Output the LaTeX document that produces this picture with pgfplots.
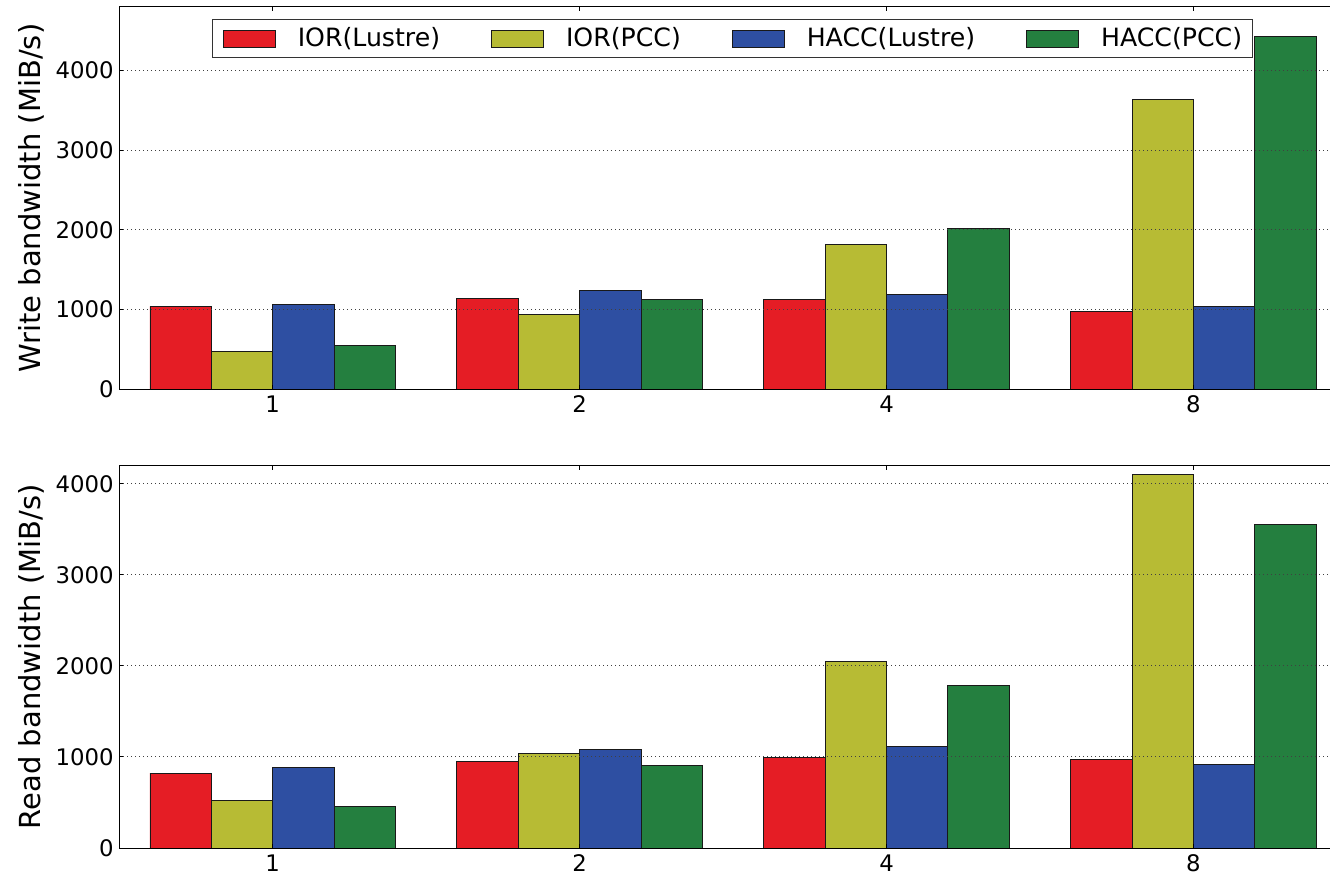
\documentclass[border=0pt]{standalone}
\usepackage{fontspec}
\setmainfont{DejaVu Sans}
\usepackage{pgfplots}
\pgfplotsset{compat=1.18}
\definecolor{cred}{RGB}{229,29,37}
\definecolor{cyel}{RGB}{183,187,52}
\definecolor{cblu}{RGB}{46,79,162}
\definecolor{cgrn}{RGB}{36,127,63}
\pgfplotsset{
  mybar/.style={ybar, bar width=0.2, bar shift=0pt, draw=black!90, line width=0.45pt, fill=#1,
    legend image code/.code={\draw[fill=#1, draw=black!90, line width=0.45pt] (0pt,-4.4pt) rectangle (26pt,4.4pt);}},
  myaxis/.style={
    scale only axis, width=605.35pt, height=191.15pt,
    xmin=-0.5, xmax=3.445, ymin=0,
    axis y line*=left,
    xtick={0,1,2,3}, xticklabels={1,2,4,8},
    ytick={0,1000,2000,3000,4000},
    tick align=inside, major tick length=2pt,
    tick style={black, line width=0.5pt},
    ymajorgrids,
    major grid style={black!75, line width=0.5pt, dash pattern=on 0.5pt off 1.5pt},
    axis line style={black, line width=0.5pt},
    axis on top,
    tick label style={font=\fontsize{11.4}{13}\selectfont},
    /pgf/number format/assume math mode=true,
    /pgf/number format/1000 sep={},
    yticklabel style={inner xsep=0pt, xshift=-2.6pt},
    ylabel style={at={(axis description cs:-0.062,0.5)}, anchor=south, inner sep=0pt, font=\fontsize{14.5}{17}\selectfont},
  }
}
\begin{document}
\begin{tikzpicture}
\path[use as bounding box] (-59.65pt,-243pt) rectangle (605.35pt,194.5pt);
\begin{axis}[myaxis, at={(0,0)}, ymax=4800,
  ylabel={Write bandwidth (MiB/s)},
  legend columns=4,
  legend style={at={(0.5065,0.967)}, anchor=north, draw=black!80, line width=0.5pt,
    inner xsep=5pt, inner ysep=4pt, font=\fontsize{12.6}{15}\selectfont,
    nodes={inner sep=0pt},
    /tikz/every odd column/.append style={column sep=11pt},
    /tikz/every even column/.append style={column sep=25.5pt}},
]
\addplot[mybar=cred] coordinates {(-0.3,1038) (0.7,1138) (1.7,1121) (2.7,979)};
\addplot[mybar=cyel] coordinates {(-0.1,468) (0.9,932) (1.9,1819) (2.9,3635)};
\addplot[mybar=cblu] coordinates {(0.1,1066) (1.1,1242) (2.1,1188) (3.1,1041)};
\addplot[mybar=cgrn] coordinates {(0.3,552) (1.3,1129) (2.3,2020) (3.3,4425)};
\legend{IOR(Lustre), IOR(PCC), HACC(Lustre), HACC(PCC)}
\end{axis}
\begin{axis}[myaxis, at={(0,-229.5pt)}, ymax=4200,
  ylabel={Read bandwidth (MiB/s)},
]
\addplot[mybar=cred] coordinates {(-0.3,823) (0.7,952) (1.7,999) (2.7,974)};
\addplot[mybar=cyel] coordinates {(-0.1,520) (0.9,1040) (1.9,2050) (2.9,4103)};
\addplot[mybar=cblu] coordinates {(0.1,886) (1.1,1083) (2.1,1117) (3.1,922)};
\addplot[mybar=cgrn] coordinates {(0.3,454) (1.3,904) (2.3,1782) (3.3,3554)};
\end{axis}
\end{tikzpicture}
\end{document}
